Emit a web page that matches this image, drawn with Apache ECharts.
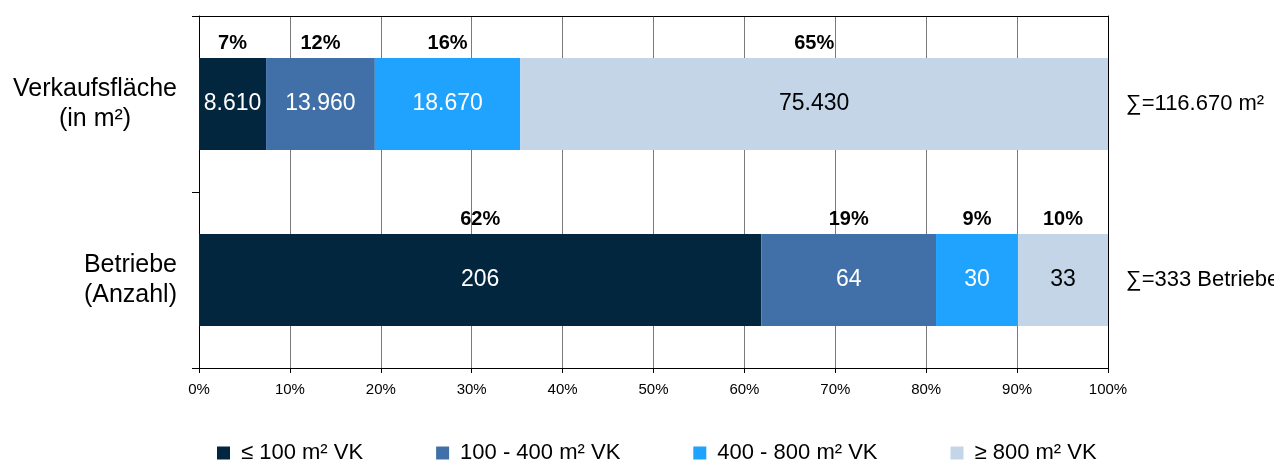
<!DOCTYPE html>
<html>
<head>
<meta charset="utf-8">
<script src="https://cdn.jsdelivr.net/npm/echarts@6/dist/echarts.min.js"></script>
<style>
  html, body { margin: 0; padding: 0; background: #ffffff; }
  #chart { width: 1274px; height: 461px; }
</style>
</head>
<body>
<div id="chart"></div>
<script>
// Rows of the stacked bar (top to bottom)
const categories = ['Verkaufsfläche\n(in m²)', 'Betriebe\n(Anzahl)'];
// Size classes (stack segments, left to right)
const sizeClasses = ['≤ 100 m² VK', '100 - 400 m² VK', '400 - 800 m² VK', '≥ 800 m² VK'];
// Absolute values per size class
const verkaufsflaeche = [8610, 13960, 18670, 75430];
const betriebe = [206, 64, 30, 33];
// Units shown in the sum labels on the right
const sumUnits = ['m²', 'Betriebe'];

const colors = ['#03263f', '#4170a8', '#1fa3ff', '#c5d5e8'];
const innerText = ['#ffffff', '#ffffff', '#ffffff', '#000000'];
const FONT = '"Liberation Sans", Arial, sans-serif';

const rows = [verkaufsflaeche, betriebe];
const totals = rows.map(r => r.reduce((a, b) => a + b, 0));

function fmtDE(n) {
  return String(n).replace(/\B(?=(\d{3})+(?!\d))/g, '.');
}

const sumLabels = totals.map((t, i) => '∑=' + fmtDE(t) + ' ' + sumUnits[i]);

const BAR_W = 92;
const series = [];

// Value segments (share of row total), labelled with the absolute value
sizeClasses.forEach((name, k) => {
  series.push({
    name: name,
    type: 'bar',
    stack: 'values',
    barWidth: BAR_W,
    barGap: '-100%',
    data: rows.map((r, i) => ({ value: r[k] / totals[i] * 100, raw: r[k] })),
    itemStyle: { color: colors[k] },
    label: {
      show: true,
      position: 'inside',
      fontFamily: FONT,
      fontSize: 23,
      color: innerText[k],
      formatter: p => fmtDE(p.data.raw)
    },
    emphasis: { disabled: true }
  });
});

// Transparent copies carrying the percentage labels above each segment
sizeClasses.forEach((name, k) => {
  series.push({
    name: name + ' %',
    type: 'bar',
    stack: 'shares',
    barWidth: BAR_W,
    barGap: '-100%',
    silent: true,
    z: 3,
    data: rows.map((r, i) => r[k] / totals[i] * 100),
    itemStyle: { color: 'rgba(0,0,0,0)' },
    label: {
      show: true,
      position: 'top',
      distance: 5,
      fontFamily: FONT,
      fontSize: 20,
      fontWeight: 'bold',
      color: '#000000',
      formatter: p => Math.round(p.value) + '%'
    },
    emphasis: { disabled: true }
  });
});

const chart = echarts.init(document.getElementById('chart'), null, { renderer: 'canvas' });
chart.setOption({
  animation: false,
  backgroundColor: '#ffffff',
  textStyle: { fontFamily: FONT },
  grid: { left: 199, right: 166, top: 16, bottom: 93, containLabel: false, outerBoundsMode: 'none' },
  legend: {
    data: sizeClasses,
    top: 437,
    left: 212,
    icon: 'rect',
    itemWidth: 13,
    itemHeight: 13,
    itemGap: 73,
    textStyle: { fontFamily: FONT, fontSize: 22, color: '#000000', padding: [0, 0, 0, 6] },
    selectedMode: false
  },
  xAxis: [
    {
      type: 'value',
      position: 'bottom',
      min: 0,
      max: 100,
      interval: 10,
      axisLine: { show: true, lineStyle: { color: '#000000', width: 1 } },
      axisTick: { show: true, length: 5, lineStyle: { color: '#000000' } },
      axisLabel: { fontFamily: FONT, fontSize: 15, color: '#000000', margin: 14, formatter: '{value}%' },
      splitLine: { show: true, lineStyle: { color: '#7a7a7a', width: 1 } }
    },
    {
      type: 'value',
      position: 'top',
      min: 0,
      max: 100,
      axisLine: { show: true, onZero: false, lineStyle: { color: '#000000', width: 1 } },
      axisTick: { show: false },
      axisLabel: { show: false },
      splitLine: { show: false }
    }
  ],
  yAxis: [
    {
      type: 'category',
      data: categories,
      inverse: true,
      position: 'left',
      axisLine: { show: true, onZero: false, lineStyle: { color: '#000000', width: 1 } },
      axisTick: { show: true, length: 7, lineStyle: { color: '#000000' } },
      axisLabel: {
        margin: 22,
        formatter: v => v.split('\n').map(s => '{c|' + s + '}').join('\n'),
        rich: { c: { align: 'center', fontFamily: FONT, fontSize: 25, color: '#000000', lineHeight: 30 } }
      }
    },
    {
      type: 'category',
      data: sumLabels,
      inverse: true,
      position: 'right',
      axisLine: { show: true, onZero: false, lineStyle: { color: '#000000', width: 1 } },
      axisTick: { show: false },
      axisLabel: { margin: 18, fontFamily: FONT, fontSize: 22, color: '#000000' }
    }
  ],
  series: series
});
</script>
</body>
</html>
